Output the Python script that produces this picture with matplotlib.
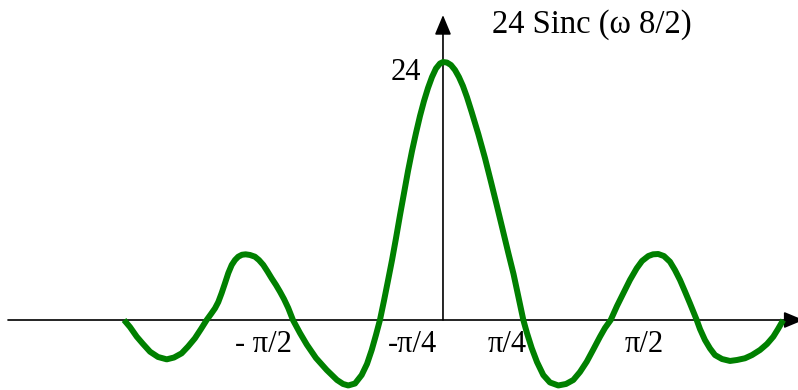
import matplotlib
matplotlib.use("Agg")
import matplotlib.pyplot as plt

# sinc curve samples: omega (rad) vs amplitude
omega = [
    -2.636, -2.587, -2.531, -2.479, -2.421, -2.355, -2.283, -2.223, -2.160,
    -2.107, -2.050, -2.000, -1.953, -1.917, -1.884, -1.857, -1.829, -1.802,
    -1.774, -1.746, -1.719, -1.692, -1.661, -1.631, -1.595, -1.554, -1.521,
    -1.485, -1.450, -1.416, -1.380, -1.347, -1.314, -1.279, -1.240, -1.182,
    -1.126, -1.050, -0.961, -0.876, -0.826, -0.783, -0.727, -0.672, -0.628,
    -0.589, -0.554, -0.521, -0.488, -0.455, -0.421, -0.388, -0.355, -0.322,
    -0.289, -0.256, -0.223, -0.190, -0.157, -0.124, -0.091, -0.058, -0.025,
    0.0, 0.033, 0.066, 0.099, 0.132, 0.165, 0.198, 0.237, 0.292, 0.347,
    0.397, 0.444, 0.492, 0.540, 0.583, 0.622, 0.664, 0.694, 0.733, 0.777,
    0.829, 0.884, 0.953, 1.017, 1.077, 1.132, 1.188, 1.240, 1.298, 1.339,
    1.386, 1.438, 1.490, 1.545, 1.601, 1.645, 1.697, 1.736, 1.779, 1.826,
    1.876, 1.917, 1.959, 2.000, 2.041, 2.097, 2.124, 2.165, 2.207, 2.248,
    2.306, 2.372, 2.430, 2.496, 2.554, 2.620, 2.678, 2.730, 2.769, 2.812,
]
amplitude = [
    0.00, -0.65, -1.55, -2.23, -2.95, -3.44, -3.66, -3.49, -3.10,
    -2.47, -1.70, -0.84, 0.00, 0.56, 1.09, 1.67, 2.51, 3.41,
    4.37, 5.12, 5.58, 5.89, 6.07, 6.11, 6.05, 5.89, 5.58,
    5.12, 4.51, 3.88, 3.26, 2.63, 1.95, 1.12, 0.00, -1.21,
    -2.28, -3.53, -4.65, -5.58, -5.95, -6.09, -5.91, -5.12, -4.09,
    -2.79, -1.40, 0.00, 1.77, 3.63, 5.58, 7.63, 9.77, 11.81,
    13.86, 15.72, 17.40, 18.98, 20.37, 21.58, 22.60, 23.40, 23.86,
    24.00, 23.95, 23.72, 23.26, 22.60, 21.77, 20.74, 19.35, 17.30, 15.07,
    12.84, 10.70, 8.47, 6.23, 4.28, 2.23, 0.00, -1.21, -2.60, -3.91,
    -5.12, -5.81, -6.09, -5.95, -5.58, -4.84, -3.88, -2.79, -1.55, -0.74,
    0.00, 1.30, 2.48, 3.72, 4.81, 5.49, 5.95, 6.11, 6.14, 5.95,
    5.42, 4.65, 3.72, 2.65, 1.55, 0.00, -0.84, -1.86, -2.65, -3.26,
    -3.63, -3.81, -3.72, -3.56, -3.26, -2.79, -2.23, -1.55, -0.84, 0.00,
]

peak_label = "24"
title_label = "24 Sinc (\u03c9 8/2)"
tick_labels = ["- \u03c0/2", "-\u03c0/4", "\u03c0/4", "\u03c0/2"]
tick_label_x = [-1.719, -0.455, 0.372, 1.504]

plt.rcParams["font.family"] = ["Liberation Serif", "DejaVu Serif"]

fig = plt.figure(figsize=(7.98, 3.90), dpi=100)
ax = fig.add_axes([0, 0, 1, 1])
ax.set_xlim(-3.661, 2.934)
ax.set_ylim(-6.512, 29.77)
ax.axis("off")

arrow = dict(arrowstyle="-|>,head_length=12,head_width=5", mutation_scale=1,
             color="black", lw=1.2, shrinkA=0, shrinkB=0)
# horizontal axis
ax.annotate("", xy=(2.98, 0), xytext=(-3.595, 0), arrowprops=arrow,
            annotation_clip=False)
# vertical axis
ax.annotate("", xy=(0, 28.37), xytext=(0, 0), arrowprops=arrow,
            annotation_clip=False)

ax.plot(omega, amplitude, color="#008000", lw=4.3,
        solid_joinstyle="round", solid_capstyle="butt", zorder=3)

ax.text(-0.182, 22.33, peak_label, fontsize=22, ha="right", va="baseline")
ax.text(0.405, 26.7, title_label, fontsize=23.5, ha="left", va="baseline")
for label, x in zip(tick_labels, tick_label_x):
    ax.text(x, -2.98, label, fontsize=22, ha="left", va="baseline")

fig.savefig("out.png", dpi=100)
